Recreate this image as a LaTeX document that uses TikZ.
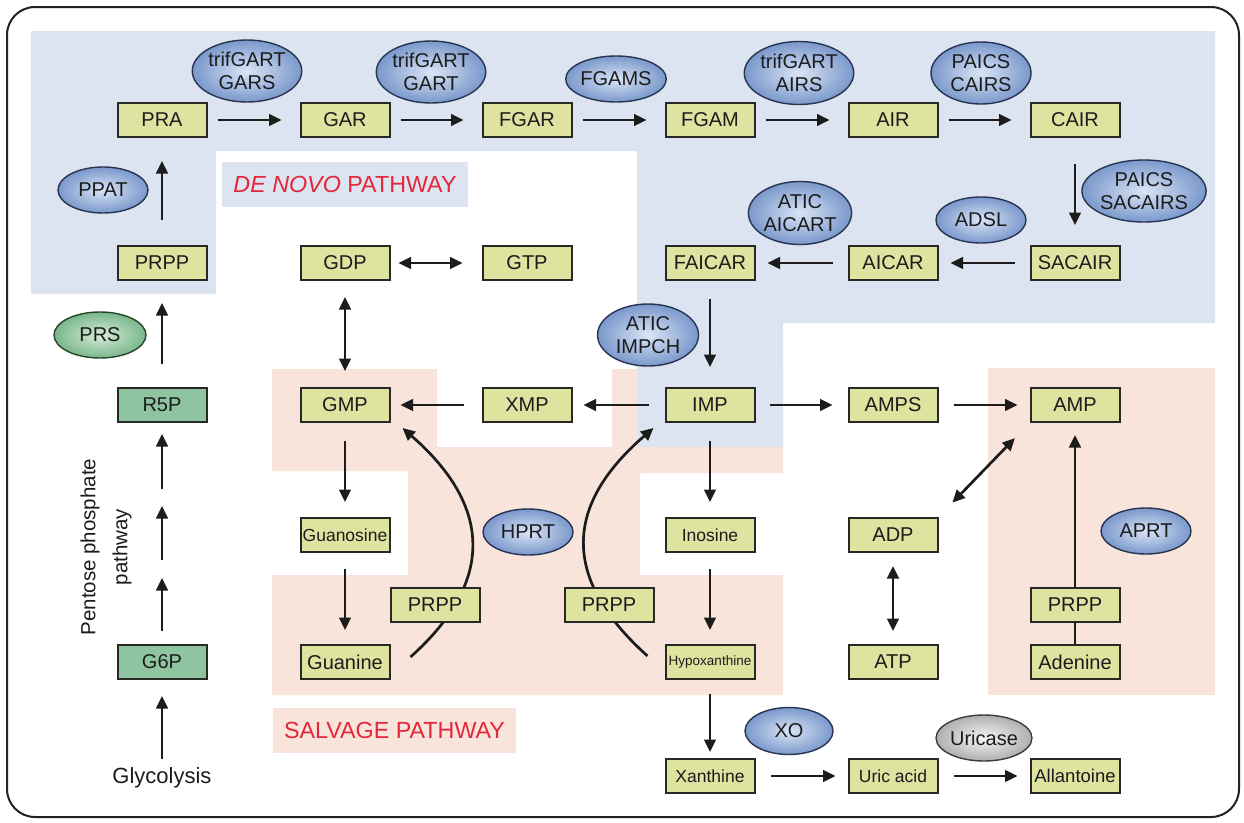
\documentclass[tikz,border=0pt]{standalone}
\usepackage{fontspec}
\setmainfont{Liberation Sans}
\usetikzlibrary{shapes.geometric,arrows.meta,calc}
\definecolor{bluebg}{RGB}{219,228,240}
\definecolor{salmonbg}{RGB}{248,228,218}
\definecolor{boxfill}{RGB}{222,227,160}
\definecolor{boxline}{RGB}{40,40,36}
\definecolor{greenfill}{RGB}{143,196,160}
\definecolor{enzin}{RGB}{218,229,246}
\definecolor{enzout}{RGB}{122,152,203}
\definecolor{enzline}{RGB}{40,52,80}
\definecolor{grnin}{RGB}{214,237,216}
\definecolor{grnout}{RGB}{122,182,140}
\definecolor{grnline}{RGB}{40,70,45}
\definecolor{gryin}{RGB}{246,246,246}
\definecolor{gryout}{RGB}{175,175,175}
\definecolor{gryline}{RGB}{60,60,60}
\definecolor{redtxt}{RGB}{230,38,58}
\definecolor{framec}{RGB}{35,35,35}
\definecolor{txt}{RGB}{28,28,28}
\begin{document}
\begin{tikzpicture}[x=1pt,y=-1pt,
  mbox/.style={draw=boxline,line width=2pt,fill=boxfill,minimum width=89pt,minimum height=34pt,inner sep=0pt,text=txt,font=\fontsize{20}{22}\selectfont},
  sbox/.style={mbox,font=\fontsize{17.5}{19}\selectfont},
  gbox/.style={mbox,fill=greenfill},
  enz/.style={ellipse,draw=enzline,line width=1.4pt,inner color=enzin,outer color=enzout,minimum width=100pt,minimum height=62pt,inner sep=0pt,align=center,text=txt,font=\fontsize{20}{23.5}\selectfont},
  enzs/.style={enz,minimum width=90pt,minimum height=46pt},
  enzg/.style={enzs,draw=grnline,inner color=grnin,outer color=grnout},
  enzgr/.style={enzs,draw=gryline,inner color=gryin,outer color=gryout},
  arr/.style={line width=2.7pt,draw=txt,-{Triangle[length=12.5pt,width=11.5pt]}},
  darr/.style={line width=2.7pt,draw=txt,{Triangle[length=12.5pt,width=11.5pt]}-{Triangle[length=12.5pt,width=11.5pt]}},
  lbl/.style={inner sep=0pt,text=redtxt,font=\fontsize{23.3}{25}\selectfont}
]
\useasboundingbox (0,0) rectangle (1244,822);
\draw[framec,line width=2pt,rounded corners=28pt] (7,7) rectangle (1239,817);

% regions
\fill[salmonbg] (272,369) -- (437,369) -- (437,447) -- (612,447) -- (612,369) -- (783,369) -- (783,473) -- (640,473) -- (640,575) -- (783,575) -- (783,695) -- (272,695) -- (272,575) -- (408,575) -- (408,471) -- (272,471) -- cycle;
\fill[salmonbg] (988,368) rectangle (1215,695);
\fill[bluebg] (31,31) -- (1215,31) -- (1215,323) -- (783,323) -- (783,447) -- (637,447) -- (637,151) -- (216,151) -- (216,294) -- (31,294) -- cycle;

\node[lbl,fill=bluebg,minimum width=246pt,minimum height=45pt] (denovo) at (345,184.5) {\textit{DE NOVO} PATHWAY};
\node[lbl,fill=salmonbg,minimum width=243pt,minimum height=45pt] (salvage) at (394.5,730.5) {SALVAGE PATHWAY};

% metabolites
\node[mbox] (PRA) at (162,120) {PRA};
\node[mbox] (GAR) at (345,120) {GAR};
\node[mbox] (FGAR) at (527,120) {FGAR};
\node[mbox] (FGAM) at (710,120) {FGAM};
\node[mbox] (AIR) at (893,120) {AIR};
\node[mbox] (CAIR) at (1075,120) {CAIR};
\node[mbox] (PRPPa) at (162,263) {PRPP};
\node[mbox] (GDP) at (345,263) {GDP};
\node[mbox] (GTP) at (527,263) {GTP};
\node[mbox] (FAICAR) at (710,263) {FAICAR};
\node[mbox] (AICAR) at (893,263) {AICAR};
\node[mbox] (SACAIR) at (1075,263) {SACAIR};
\node[gbox] (R5P) at (162,405) {R5P};
\node[mbox] (GMP) at (345,405) {GMP};
\node[mbox] (XMP) at (527,405) {XMP};
\node[mbox] (IMP) at (710,405) {IMP};
\node[mbox] (AMPS) at (893,405) {AMPS};
\node[mbox] (AMP) at (1075,405) {AMP};
\node[sbox] (Guanosine) at (345,535) {Guanosine};
\node[sbox] (Inosine) at (710,535) {Inosine};
\node[mbox] (ADP) at (893,535) {ADP};
\node[gbox] (G6P) at (162,662) {G6P};
\node[mbox] (Guanine) at (345,662) {Guanine};
\node[mbox,font=\fontsize{13.5}{15}\selectfont] (Hyp) at (710,662) {Hypoxanthine};
\node[mbox] (ATP) at (893,662) {ATP};
\node[mbox] (Adenine) at (1075,662) {Adenine};
\node[sbox] (Xanthine) at (710,776) {Xanthine};
\node[sbox] (Uric) at (893,776) {Uric acid};
\node[sbox,font=\fontsize{18.5}{20}\selectfont] (Allantoine) at (1075,776) {Allantoine};
\node[text=txt,font=\fontsize{22}{24}\selectfont] (Glyc) at (162,778) {Glycolysis};
\node[rotate=90,align=center,text=txt,font=\fontsize{20.5}{32}\selectfont] (PPP) at (106,547) {Pentose phosphate\\pathway};

% HPRT curves (behind PRPP boxes)
\draw[arr] ($(Guanine.east)+(20,-5)$) .. controls +(87,-78) and +(87,76) .. ($(GMP.south east)+(12,5)$);
\draw[arr] ($(Hyp.west)+(-17,-6)$) .. controls +(-88,-79) and +(-88,76) .. ($(IMP.south west)+(-11,5)$);
\node[mbox] (PRPPl) at (435,605) {PRPP};
\node[mbox] (PRPPr) at (609,605) {PRPP};
\node[mbox] (PRPPc) at (1075,605) {PRPP};

% enzymes
\node[enz] (eGARS) at (247,71) {trifGART\\GARS};
\node[enz] (eGART) at (431,72) {trifGART\\GART};
\node[enzs,minimum width=88pt] (eFGAMS) at (616,79) {FGAMS};
\node[enz,minimum width=98pt,minimum height=63pt] (eAIRS) at (799,73) {trifGART\\AIRS};
\node[enz] (eCAIRS) at (981,73) {PAICS\\CAIRS};
\node[enz,minimum width=102pt] (eSACAIRS) at (1144,191) {PAICS\\SACAIRS};
\node[enzs] (eADSL) at (981,220) {ADSL};
\node[enz,minimum width=98pt,minimum height=63pt] (eAICART) at (800,213) {ATIC\\AICART};
\node[enzs] (ePPAT) at (103,190) {PPAT};
\node[enzg,minimum width=92pt] (ePRS) at (100,335) {PRS};
\node[enz,minimum width=101pt] (eIMPCH) at (648,335) {ATIC\\IMPCH};
\node[enzs] (eHPRT) at (528,532) {HPRT};
\node[enzs] (eAPRT) at (1146,531) {APRT};
\node[enzs,minimum width=88pt,minimum height=47pt] (eXO) at (789,731) {XO};
\node[enzgr] (eUric) at (984,738) {Uricase};

% de novo arrows
\draw[arr,shorten <=25pt,shorten >=23pt] (PRPPa) -- (PRA);
\draw[arr,shorten <=10pt,shorten >=18pt] (PRA) -- (GAR);
\draw[arr,shorten <=10pt,shorten >=18pt] (GAR) -- (FGAR);
\draw[arr,shorten <=10pt,shorten >=18pt] (FGAR) -- (FGAM);
\draw[arr,shorten <=10pt,shorten >=18pt] (FGAM) -- (AIR);
\draw[arr,shorten <=10pt,shorten >=18pt] (AIR) -- (CAIR);
\draw[arr,shorten <=26pt,shorten >=20pt] (CAIR) -- (SACAIR);
\draw[arr,shorten <=15pt,shorten >=12pt] (SACAIR) -- (AICAR);
\draw[arr,shorten <=15pt,shorten >=12pt] (AICAR) -- (FAICAR);
\draw[arr,shorten <=18pt,shorten >=20pt] (FAICAR) -- (IMP);
\draw[darr,shorten <=8pt,shorten >=19pt] (GDP) -- (GTP);
\draw[darr,shorten <=16pt,shorten >=16pt] (GDP) -- (GMP);

% middle
\draw[arr,shorten <=16pt,shorten >=11pt] (IMP) -- (XMP);
\draw[arr,shorten <=18pt,shorten >=10pt] (XMP) -- (GMP);
\draw[arr,shorten <=14pt,shorten >=15pt] (IMP) -- (AMPS);
\draw[arr,shorten <=15pt,shorten >=12pt] (AMPS) -- (AMP);
\draw[arr,shorten <=18pt,shorten >=15pt] (GMP) -- (Guanosine);
\draw[arr,shorten <=16pt,shorten >=14pt] (Guanosine) -- (Guanine);
\draw[arr,shorten <=18pt,shorten >=15pt] (IMP) -- (Inosine);
\draw[arr,shorten <=16pt,shorten >=14pt] (Inosine) -- (Hyp);
\draw[arr,shorten <=14pt,shorten >=6pt] (Hyp) -- (Xanthine);
\draw[arr,shorten <=15pt,shorten >=12pt] (Xanthine) -- (Uric);
\draw[arr,shorten <=15pt,shorten >=12pt] (Uric) -- (Allantoine);
\draw[darr,shorten <=13pt,shorten >=13pt] (ADP) -- (ATP);
\draw[darr,shorten <=20pt,shorten >=21pt] (ADP.north east) -- (AMP.south west);
\draw[line width=2.7pt,draw=txt] (Adenine) -- (PRPPc);
\draw[arr,shorten >=12pt] (PRPPc) -- (AMP);

% pentose phosphate
\coordinate (s1) at (162,631); \coordinate (t1) at (162,578);
\coordinate (s2) at (162,560); \coordinate (t2) at (162,506);
\coordinate (s3) at (162,489); \coordinate (t3) at (162,434);
\draw[arr] (s1) -- (t1);
\draw[arr] (s2) -- (t2);
\draw[arr] (s3) -- (t3);
\draw[arr,shorten <=23pt,shorten >=22pt] (R5P) -- (PRPPa);
\draw[arr,shorten <=5pt,shorten >=16pt] (Glyc) -- (G6P);
\end{tikzpicture}
\end{document}
